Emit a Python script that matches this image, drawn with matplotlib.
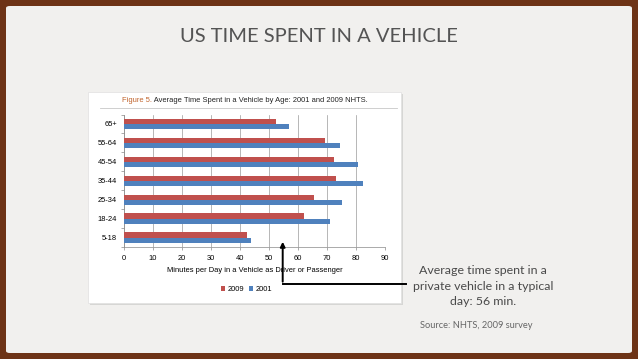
import numpy as np
from matplotlib import pyplot as plt
from matplotlib.patches import FancyBboxPatch, Rectangle, FancyArrowPatch
from matplotlib.lines import Line2D

age_groups = ['65+', '55-64', '45-54', '35-44', '25-34', '18-24', '5-18']
minutes_2009 = [52.3, 69.4, 72.6, 73.2, 65.4, 62.0, 42.4]
minutes_2001 = [56.9, 74.4, 80.6, 82.4, 75.2, 70.9, 43.8]
x_ticks = [0, 10, 20, 30, 40, 50, 60, 70, 80, 90]

W, H = 638, 359
RED = '#c0504d'
BLUE = '#4f81bd'
FS = 5.4


def fx(px):
    return px / W


def fy(py):
    return 1 - py / H


fig = plt.figure(figsize=(W / 100, H / 100), dpi=100)
fig.patch.set_facecolor('#6d3316')

# slide background
slide = FancyBboxPatch((fx(6), fy(353)), fx(632) - fx(6), fy(6) - fy(353),
                       boxstyle='round,pad=0,rounding_size=0.006',
                       transform=fig.transFigure, facecolor='#f1f0ee',
                       edgecolor='none', zorder=0)
fig.add_artist(slide)

fig.text(0.5, fy(36), 'US TIME SPENT IN A VEHICLE', ha='center', va='center',
         fontsize=14.5, color='#545454', family='Lato')

# embedded chart picture (white box with shadow)
fig.add_artist(Rectangle((fx(90), fy(305)), fx(403) - fx(90), fy(94) - fy(305),
                         transform=fig.transFigure, facecolor='#d6d6d4',
                         edgecolor='none', zorder=1))
fig.add_artist(Rectangle((fx(88), fy(303)), fx(401) - fx(88), fy(92) - fy(303),
                         transform=fig.transFigure, facecolor='white',
                         edgecolor='#e0e0e0', linewidth=0.5, zorder=2))
fig.add_artist(Line2D([fx(100), fx(397)], [fy(108), fy(108)],
                      transform=fig.transFigure, color='#c8c8c8', lw=0.6, zorder=3))

t1 = fig.text(fx(122), fy(100), 'Figure 5.', ha='left', va='center',
              fontsize=FS, color='#c0622a', family='Liberation Sans', zorder=4)
fig.canvas.draw()
bb = t1.get_window_extent()
fig.text(fx(bb.x1), fy(100), ' Average Time Spent in a Vehicle by Age: 2001 and 2009 NHTS.',
         ha='left', va='center', fontsize=FS, color='#222222',
         family='Liberation Sans', zorder=4)

ax = fig.add_axes([fx(123.7), fy(247), fx(385) - fx(123.7), fy(114.5) - fy(247)])
ax.set_zorder(5)
ax.patch.set_alpha(0)

y = np.arange(len(age_groups))
h = 0.27
ax.barh(y - h / 2, minutes_2009, height=h, color=RED, label='2009', zorder=3)
ax.barh(y + h / 2, minutes_2001, height=h, color=BLUE, label='2001', zorder=3)

ax.set_xlim(0, 90)
ax.set_ylim(len(age_groups) - 0.5, -0.5)
ax.set_xticks(x_ticks)
ax.set_xticklabels([str(v) for v in x_ticks], fontsize=FS, family='Liberation Sans')
ax.set_yticks(y)
ax.set_yticklabels(age_groups, fontsize=FS, family='Liberation Sans')
ax.set_yticks(np.arange(len(age_groups) + 1) - 0.5, minor=True)
ax.tick_params(axis='y', which='major', length=0, pad=5)
ax.tick_params(axis='y', which='minor', length=2, width=0.5, color='#888888')
ax.tick_params(axis='x', length=2, width=0.5, color='#888888', pad=3.5)
ax.grid(axis='x', color='#9a9a9a', lw=0.5, zorder=0)
for s in ['top', 'right']:
    ax.spines[s].set_visible(False)
for s in ['left', 'bottom']:
    ax.spines[s].set_color('#888888')
    ax.spines[s].set_linewidth(0.5)
ax.set_xlabel('Minutes per Day in a Vehicle as Driver or Passenger', fontsize=FS,
              family='Liberation Sans', labelpad=3.5)
ax.legend(loc='upper center', bbox_to_anchor=(0.47, -0.245), ncol=2, frameon=False,
          handlelength=0.6, handleheight=0.6, handletextpad=0.3,
          columnspacing=0.6, prop={'family': 'Liberation Sans', 'size': FS})

# callout arrow
fig.add_artist(Line2D([fx(406), fx(282.7)], [fy(284), fy(284)],
                      transform=fig.transFigure, color='black', lw=1.4, zorder=6))
fig.add_artist(FancyArrowPatch((fx(282.7), fy(284.5)), (fx(282.7), fy(239)),
                               transform=fig.transFigure, arrowstyle='-|>',
                               mutation_scale=7, color='black', lw=1.4, zorder=6))

fig.text(fx(483), fy(286), 'Average time spent in a\nprivate vehicle in a typical\nday: 56 min.',
         ha='center', va='center', fontsize=8.9, color='#4a4a4a', family='Lato',
         linespacing=1.5)
fig.text(fx(476), fy(325), 'Source: NHTS, 2009 survey', ha='center', va='center',
         fontsize=6.7, color='#666666', family='Lato')

fig.savefig('out.png', dpi=100, facecolor=fig.get_facecolor())
